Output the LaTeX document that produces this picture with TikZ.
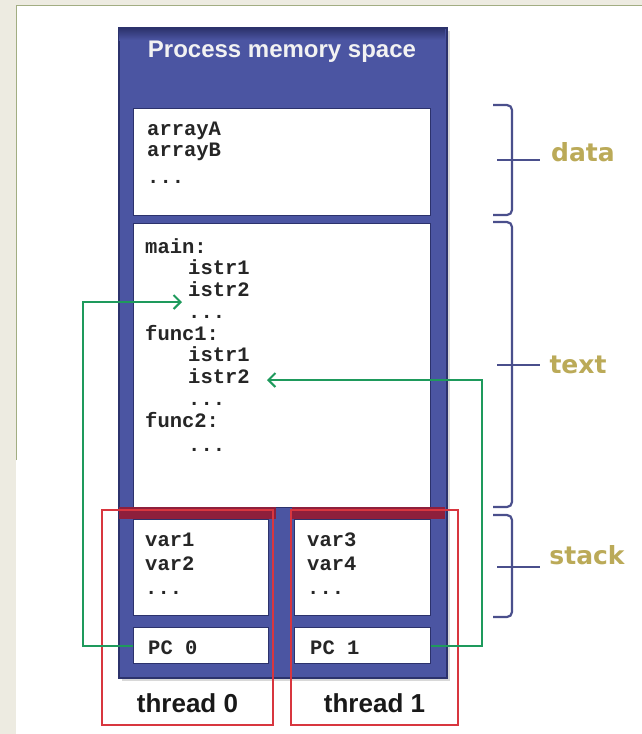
\documentclass[tikz,border=0pt]{standalone}
\usepackage{fontspec}
\setmainfont{Liberation Sans}
\setmonofont{Liberation Mono}
\newfontfamily\dejavu{DejaVu Sans}
\usetikzlibrary{arrows.meta,shadows}

% couleurs
\definecolor{bgbeige}{HTML}{EDEBE1}
\definecolor{bgline}{HTML}{A2AD82}
\definecolor{memblue}{HTML}{4B55A2}
\definecolor{memedge}{HTML}{2C326C}
\definecolor{thrred}{HTML}{D8363F}
\definecolor{bandred}{HTML}{8E1F3C}
\definecolor{pcgreen}{HTML}{1E9A5C}
\definecolor{bracecol}{HTML}{4A4F8C}
\definecolor{labgold}{HTML}{BBAA58}

% premiere ligne : hauteur fixe de 15pt au-dessus de la ligne de base
\newcommand{\firstline}{\rule{0pt}{15pt}}

\tikzset{
  membox/.style={draw=memedge, line width=1.2pt, fill=white, anchor=north west, inner sep=0pt},
  codetxt/.style={anchor=north west, inner sep=0pt, align=left, text=black!85,
    font=\ttfamily\bfseries\fontsize{20.5}{21.75}\selectfont},
  thrlabel/.style={font=\bfseries\fontsize{26}{30}\selectfont, text=black!90},
  seglabel/.style={font=\dejavu\bfseries\fontsize{25}{30}\selectfont, text=labgold},
  pcarrow/.style={draw=pcgreen, line width=2pt, -{Straight Barb[length=7pt,width=14pt]}},
  brace/.style={draw=bracecol, line width=2.2pt, rounded corners=5pt},
  thrframe/.style={draw=thrred, line width=2.6pt},
}

\begin{document}
\begin{tikzpicture}[x=1pt, y=-1pt]
    \useasboundingbox (0,0) rectangle (642,734);
    % Fond
    \fill[bgbeige] (0,0) rectangle (642,734);
    \fill[white] (16,5) rectangle (642,734);
    \draw[bgline, line width=1pt] (16,460) -- (16,5) -- (642,5);

    % Espace memoire du processus
    \node[draw=memedge, fill=memblue, line width=1.5pt, anchor=north west, inner sep=0pt,
          minimum width=328pt, minimum height=650pt,
          drop shadow={shadow xshift=3pt, shadow yshift=-3pt, opacity=0.3}] (frame) at (118,27) {};
    \shade[top color=memedge, bottom color=memblue] (119,28) rectangle (445,40);
    \node[font=\bfseries\fontsize{24}{28}\selectfont, text=black!5!white] (title) at (282,52) {Process memory space};

    % Segments
    \node[membox, minimum width=297pt, minimum height=107pt] (data) at (133,108) {};
    \node[membox, minimum width=297pt, minimum height=284pt] (code) at (133,223) {};
    \fill[bandred] (119,507) rectangle (276,519);
    \fill[bandred] (292,507) rectangle (445,519);
    \node[membox, minimum width=135pt, minimum height=96pt] (stack0) at (133,519) {};
    \node[membox, minimum width=136pt, minimum height=96pt] (stack1) at (294,519) {};
    \node[membox, minimum width=135pt, minimum height=36pt] (pc0) at (133,627) {};
    \node[membox, minimum width=136pt, minimum height=36pt] (pc1) at (294,627) {};

    % Contenu (coin = ligne de base - 15)
    \node[codetxt] (datatxt) at (147,120) {\firstline arrayA\\arrayB\\[5pt]...};
    \node[codetxt] (codetxt) at (145,238) {\firstline main:\\
        \hspace*{43pt}istr1\\
        \hspace*{43pt}istr2\\
        \hspace*{43pt}...\\
        func1:\\
        \hspace*{43pt}istr1\\
        \hspace*{43pt}istr2\\
        \hspace*{43pt}...\\
        func2:\\[3pt]
        \hspace*{43pt}...};
    \node[codetxt, font=\ttfamily\bfseries\fontsize{20.5}{24.3}\selectfont] (stack0txt) at (145,531) {\firstline var1\\var2\\...};
    \node[codetxt, font=\ttfamily\bfseries\fontsize{20.5}{24.3}\selectfont] (stack1txt) at (307,531) {\firstline var3\\var4\\...};
    \node[codetxt] (pc0txt) at (148,639) {\firstline PC 0};
    \node[codetxt] (pc1txt) at (310,639) {\firstline PC 1};

    % Accolades
    \draw[brace] (493,105) -- (512,105) -- (512,215) -- (493,215);
    \draw[bracecol, line width=2.2pt] (497,160) -- (540,160);
    \draw[brace] (493,222) -- (512,222) -- (512,507) -- (493,507);
    \draw[bracecol, line width=2.2pt] (497,365) -- (540,365);
    \draw[brace] (493,515) -- (512,515) -- (512,617) -- (493,617);
    \draw[bracecol, line width=2.2pt] (497,567) -- (540,567);
    \node[seglabel] (datalab) at (583,152) {data};
    \node[seglabel] (textlab) at (578,365) {text};
    \node[seglabel] (stacklab) at (587,555) {stack};

    % Threads
    \draw[thrframe] (102,510) rectangle (273,725);
    \draw[thrframe] (291,510) rectangle (458,725);
    \node[thrlabel] (thr0) at (187.5,703) {thread 0};
    \node[thrlabel] (thr1) at (374.5,703) {thread 1};

    % Compteurs ordinaux
    \coordinate (tip0) at (182,302);
    \coordinate (tip1) at (267,380);
    \draw[pcarrow] (pc0.west) -- ++(-50,0) |- (tip0);
    \draw[pcarrow] (pc1.east) -- ++(51,0) |- (tip1);

\end{tikzpicture}
\end{document}
